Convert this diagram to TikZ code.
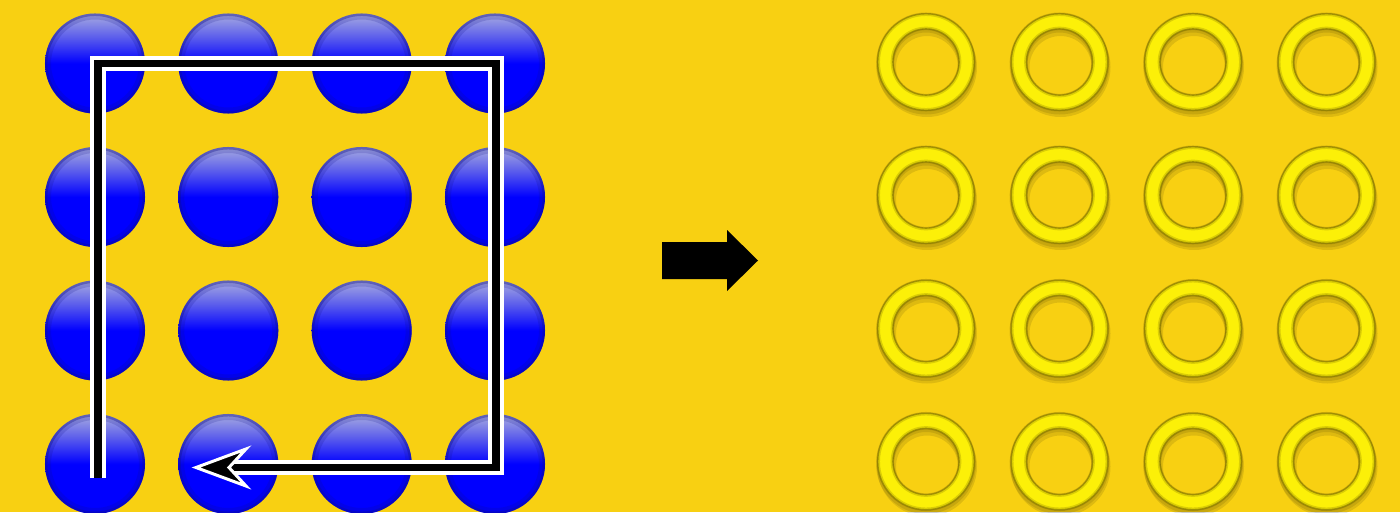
\documentclass[tikz,border=0pt]{standalone}
\usetikzlibrary{calc}
\definecolor{bgyellow}{HTML}{F8D012}
\definecolor{ringyellow}{HTML}{FCF008}
\definecolor{ringedge}{HTML}{7A6A00}
\definecolor{sphlight}{HTML}{A8ACE0}
\definecolor{sphmid}{HTML}{5A5CEC}
\definecolor{sphblue}{HTML}{0000FF}
\definecolor{sphedge}{HTML}{10108A}
\pgfdeclareverticalshading{spherev}{100bp}{color(0bp)=(sphblue); color(50bp)=(sphblue); color(63bp)=(sphmid); color(75bp)=(sphlight); color(100bp)=(sphlight)}
\tikzset{
  sphere/.style={shading=spherev},
  pathwhite/.style={draw=white, line width=15.5pt, line join=miter, line cap=butt},
  pathblack/.style={draw=black, line width=7.5pt, line join=miter, line cap=butt},
  bigarrow/.style={fill=black},
}
\begin{document}
\begin{tikzpicture}[x=1pt,y=-1pt]
\useasboundingbox (0,0) rectangle (1400,512);
\fill[bgyellow] (0,0) rectangle (1400,512);
% spheres
\foreach \cx in {95,228.3,361.7,495}{
  \foreach \cy in {63.5,197,330.5,464}{
    \shade[sphere] (\cx,\cy) circle[radius=50];
    \draw[sphedge, line width=6pt, opacity=0.18] (\cx,\cy) circle[radius=47];
    \draw[sphedge, line width=2.5pt, opacity=0.35] (\cx,\cy) circle[radius=48.8];
  }
}
% rings
\foreach \cx in {926,1059.5,1193,1326.5}{
  \foreach \cy in {62,195,328.5,461.5}{
    \fill[black, opacity=0.10, even odd rule] (\cx+1,\cy+5) circle[radius=50] (\cx+1,\cy+5) circle[radius=31];
    \fill[black, opacity=0.10, even odd rule] (\cx,\cy+2.5) circle[radius=50] (\cx,\cy+2.5) circle[radius=32];
    \fill[ringyellow, even odd rule] (\cx,\cy) circle[radius=48.5] (\cx,\cy) circle[radius=33];
    \draw[ringedge, line width=3.5pt, opacity=0.25] (\cx,\cy) circle[radius=47.8] (\cx,\cy) circle[radius=33.6];
    \draw[ringedge, line width=1.4pt, opacity=0.6] (\cx,\cy) circle[radius=48.3] (\cx,\cy) circle[radius=33.1];
  }
}
% route
\coordinate (p0) at (98,478);
\coordinate (p1) at (98,63.5);
\coordinate (p2) at (496,63.5);
\coordinate (p3) at (496,467.5);
\coordinate (p4) at (230,467.5);
\draw[pathwhite] (p0) -- (p1) -- (p2) -- (p3) -- (p4);
\draw[pathblack] (p0) -- (p1) -- (p2) -- (p3) -- (p4);
\coordinate (tip) at (196,467.5);
\coordinate (bt) at (246,449);
\coordinate (notch) at (229,467.5);
\coordinate (bb) at (246,486);
\filldraw[fill=black, draw=white, line width=3pt, line join=miter, miter limit=20] (tip) -- (bt) -- (notch) -- (bb) -- cycle;
% big arrow
\coordinate (a1) at (662,242);
\coordinate (a2) at (727,242);
\coordinate (a3) at (727,230);
\coordinate (a4) at (758,260.5);
\coordinate (a5) at (727,291);
\coordinate (a6) at (727,279);
\coordinate (a7) at (662,279);
\fill[bigarrow] (a1) -- (a2) -- (a3) -- (a4) -- (a5) -- (a6) -- (a7) -- cycle;
\end{tikzpicture}
\end{document}
